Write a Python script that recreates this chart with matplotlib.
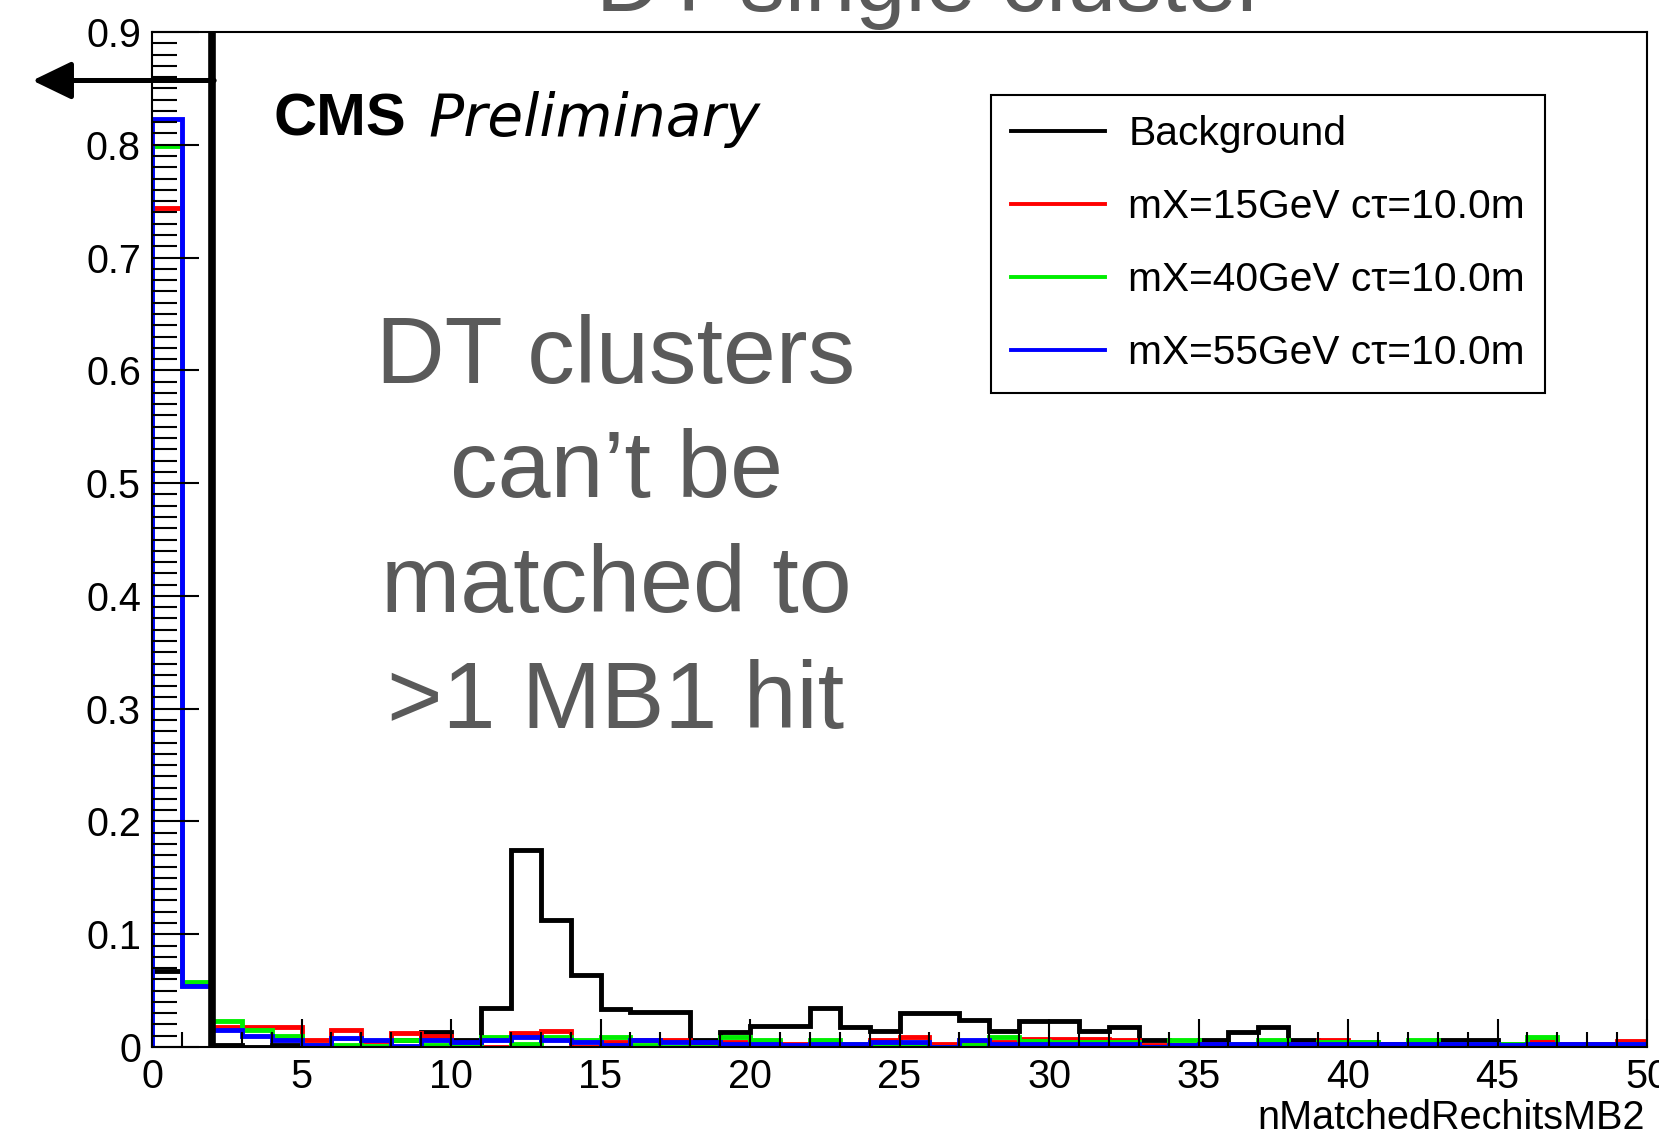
import matplotlib

matplotlib.use("Agg")
import matplotlib.pyplot as plt
import numpy as np
from matplotlib.lines import Line2D
from matplotlib.ticker import FuncFormatter, MultipleLocator

# histogram contents, 50 bins of width 1 from 0 to 50
bin_edges = np.arange(0, 51, 1)
background = [
    0.067, 0.057, 0.002, 0.0, 0.002, 0.0, 0.001, 0.0, 0.006, 0.013,
    0.0065, 0.035, 0.175, 0.113, 0.064, 0.034, 0.031, 0.031, 0.0065, 0.013,
    0.019, 0.019, 0.035, 0.018, 0.014, 0.030, 0.030, 0.024, 0.014, 0.023,
    0.023, 0.014, 0.018, 0.0065, 0.0, 0.0065, 0.013, 0.018, 0.0065, 0.004,
    0.003, 0.003, 0.003, 0.0065, 0.0065, 0.003, 0.003, 0.003, 0.003, 0.003,
]
mx15 = [
    0.744, 0.055, 0.018, 0.018, 0.018, 0.0065, 0.015, 0.005, 0.012, 0.010,
    0.003, 0.0, 0.0125, 0.014, 0.0, 0.0045, 0.006, 0.0065, 0.002, 0.004,
    0.004, 0.003, 0.003, 0.0, 0.0065, 0.009, 0.003, 0.003, 0.004, 0.0075,
    0.0075, 0.0075, 0.0065, 0.002, 0.002, 0.003, 0.003, 0.003, 0.003, 0.0065,
    0.004, 0.0, 0.003, 0.003, 0.003, 0.0, 0.005, 0.003, 0.003, 0.005,
]
mx40 = [
    0.799, 0.058, 0.0228, 0.015, 0.0095, 0.002, 0.002, 0.0005, 0.0065, 0.0015,
    0.0015, 0.009, 0.003, 0.009, 0.0065, 0.009, 0.0015, 0.0, 0.0, 0.009,
    0.0065, 0.0, 0.006, 0.003, 0.003, 0.003, 0.0, 0.0015, 0.009, 0.005,
    0.004, 0.004, 0.004, 0.0, 0.0065, 0.0, 0.003, 0.0065, 0.002, 0.004,
    0.004, 0.001, 0.0065, 0.003, 0.003, 0.003, 0.009, 0.001, 0.001, 0.003,
]
mx55 = [
    0.823, 0.054, 0.015, 0.010, 0.0065, 0.0015, 0.008, 0.0065, 0.0005, 0.0065,
    0.0045, 0.0065, 0.009, 0.0065, 0.0045, 0.0015, 0.0065, 0.0045, 0.0045, 0.003,
    0.003, 0.0015, 0.003, 0.003, 0.0045, 0.0045, 0.0, 0.0065, 0.003, 0.003,
    0.003, 0.003, 0.003, 0.0, 0.0015, 0.003, 0.003, 0.003, 0.003, 0.003,
    0.003, 0.003, 0.003, 0.003, 0.003, 0.0015, 0.003, 0.003, 0.003, 0.003,
]
series_labels = [
    "Background",
    "mX=15GeV c\u03c4=10.0m",
    "mX=40GeV c\u03c4=10.0m",
    "mX=55GeV c\u03c4=10.0m",
]
series_colors = ["black", "#ff0000", "#00ee00", "#0000ff"]
cut_value = 2
arrow_tip = -4.0
arrow_height = 0.857
note_lines = ["DT clusters", "can\u2019t be", "matched to", ">1 MB1 hit"]

plt.rcParams["font.family"] = ["Liberation Sans", "DejaVu Sans"]

fig = plt.figure(figsize=(16.59, 11.39), dpi=100)
ax = fig.add_axes([152 / 1659, 1 - 1047 / 1139, 1495 / 1659, 1015 / 1139])

for values, color in zip([background, mx15, mx40, mx55], series_colors):
    ax.stairs(values, bin_edges, color=color, linewidth=3.5, baseline=0)

# cut line with arrow
ax.plot([cut_value, cut_value], [0, 0.9], color="black", linewidth=5.5, solid_capstyle="butt", zorder=5)
ax.annotate(
    "",
    xy=(arrow_tip, arrow_height),
    xytext=(cut_value + 0.08, arrow_height),
    arrowprops=dict(arrowstyle="-|>,head_length=0.6,head_width=0.29", mutation_scale=40,
                    lw=3.6, color="black", shrinkA=0, shrinkB=0),
    annotation_clip=False,
    zorder=5,
)

ax.set_xlim(0, 50)
ax.set_ylim(0, 0.9)
ax.xaxis.set_major_locator(MultipleLocator(5))
ax.xaxis.set_minor_locator(MultipleLocator(1))
ax.yaxis.set_major_locator(MultipleLocator(0.1))
ax.yaxis.set_minor_locator(MultipleLocator(0.01))
ax.yaxis.set_major_formatter(FuncFormatter(lambda v, _: "0" if abs(v) < 1e-9 else f"{v:.1f}"))
ax.tick_params(axis="both", which="both", direction="in", labelsize=28.5, width=1.5, pad=8)
ax.tick_params(axis="x", which="major", length=20)
ax.tick_params(axis="x", which="minor", length=11)
ax.tick_params(axis="y", which="major", length=34)
ax.tick_params(axis="y", which="minor", length=18)
for spine in ax.spines.values():
    spine.set_linewidth(1.5)

handles = [Line2D([], [], color=c, linewidth=2.8) for c in series_colors]
leg = ax.legend(
    handles, series_labels, loc="upper left", bbox_to_anchor=(0.561, 0.938),
    borderaxespad=0, fontsize=29.3, frameon=True, fancybox=False, framealpha=1,
    edgecolor="black", handlelength=2.3, handletextpad=0.58, labelspacing=0.86,
    borderpad=0.5,
)
leg.get_frame().set_linewidth(1.5)

fig.text(273 / 1659, 1 - 120 / 1139, "CMS", fontsize=43, fontweight="bold", va="center", ha="left")
fig.text(428 / 1659, 1 - 120 / 1139, "Preliminary", fontsize=42, style="italic",
         family="DejaVu Sans", va="center", ha="left")

gray = "#5a5a5a"
baselines = [383, 497, 612, 728]
for line, yb in zip(note_lines, baselines):
    fig.text(616 / 1659, 1 - yb / 1139, line, fontsize=68.5, color=gray, ha="center", va="baseline")
fig.text(931 / 1659, 1 - 11 / 1139, "DT single cluster", fontsize=65, color=gray,
         ha="center", va="baseline")

fig.text(1645 / 1659, 1 - 1118 / 1139, "nMatchedRechitsMB2", fontsize=28.5, ha="right", va="center")

fig.savefig("out.png", dpi=100)
plt.close(fig)
